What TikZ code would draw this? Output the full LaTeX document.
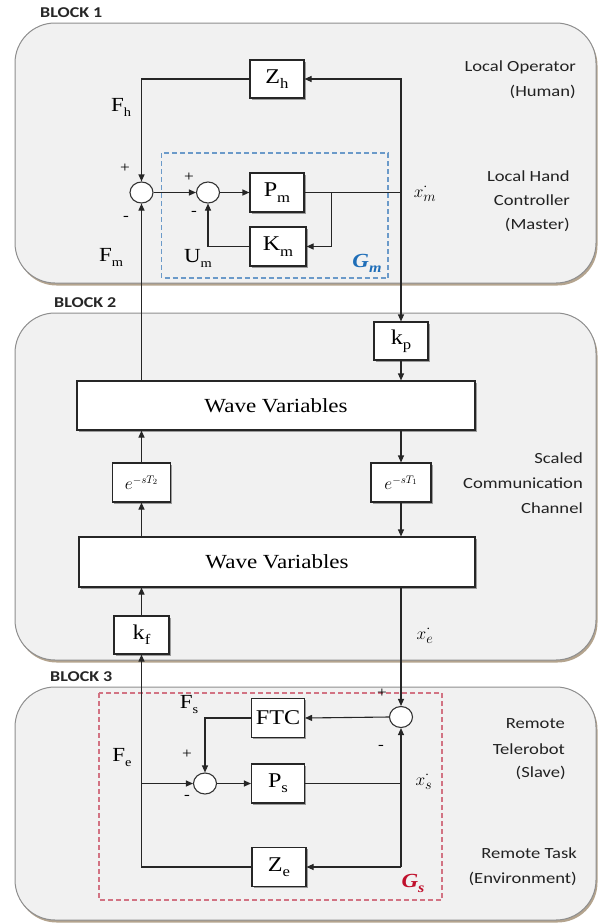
\documentclass[tikz,border=0pt]{standalone}
\usepackage{fontspec}
\setmainfont{Liberation Serif}[FakeStretch=1.15]
\newfontfamily\sidefont{Carlito}[FakeStretch=1.2]
\usetikzlibrary{arrows.meta,shadows,shapes.geometric}
\definecolor{blockfill}{HTML}{F1F1F1}
\definecolor{blockline}{HTML}{8E8E8E}
\definecolor{blockshadow}{HTML}{B4A48E}
\definecolor{gmblue}{HTML}{1F6EB8}
\definecolor{dashblue}{HTML}{6B9AC9}
\definecolor{gsred}{HTML}{C0102C}
\definecolor{dashred}{HTML}{D27383}
\definecolor{sidetext}{HTML}{222222}
\newcommand\bsub[2]{#1\raisebox{-0.25em}{\fontsize{14.5}{14.5}\selectfont #2}}
\newcommand\ssub[2]{#1\raisebox{-0.25em}{\fontsize{12.5}{12.5}\selectfont #2}}
\tikzset{
  blk/.style={draw=black!85, fill=white, line width=1.1pt, minimum width=54pt,
    minimum height=38pt, inner sep=0pt, font=\fontsize{21}{21}\selectfont,
    drop shadow={shadow xshift=1.5pt, shadow yshift=-1.5pt, opacity=0.35, fill=black}},
  sumj/.style={ellipse, draw=black!80, fill=white, line width=1.1pt,
    minimum width=23pt, minimum height=21pt, inner sep=0pt},
  arr/.style={-{Triangle[length=7pt,width=6pt]}, line width=1.1pt, draw=black!85},
  ln/.style={line width=1.1pt, draw=black!85},
  side/.style={font=\sidefont\fontsize{15.5}{15.5}\selectfont, text=sidetext, anchor=east, inner sep=0pt},
  blocklbl/.style={font=\sidefont\bfseries\fontsize{15}{15}\selectfont, text=black!85, anchor=west, inner sep=0pt},
  sig/.style={font=\fontsize{20}{20}\selectfont, inner sep=0pt},
  xsig/.style={font=\fontsize{19}{19}\selectfont, inner sep=0pt},
  pmsign/.style={font=\fontsize{15}{15}\selectfont, inner sep=0pt},
  blockbg/.style={draw=blockline, fill=blockfill, line width=1pt, rounded corners=40pt},
  blockshd/.style={fill=blockshadow, rounded corners=40pt},
}
\begin{document}
\begin{tikzpicture}[x=1pt,y=-1pt]
\useasboundingbox (0,0) rectangle (603,924);
% blocks
\fill[blockshd] (16.5,25.5) rectangle (597.5,285.5);
\draw[blockbg] (15,23) rectangle (596,283);
\fill[blockshd] (16.5,315.5) rectangle (597.5,662.5);
\draw[blockbg] (15,313) rectangle (596,660);
\fill[blockshd] (16.5,689.5) rectangle (597.5,922.5);
\draw[blockbg] (15,687) rectangle (596,920);
\node[blocklbl] (b1) at (40,13) {BLOCK 1};
\node[blocklbl] (b2) at (54,303) {BLOCK 2};
\node[blocklbl] (b3) at (50,677) {BLOCK 3};
% dashed group boxes
\draw[dashblue, line width=1.1pt, dash pattern=on 5pt off 3pt] (161.5,153) rectangle (388,278);
\draw[dashred, line width=1.1pt, dash pattern=on 5pt off 3pt] (99,693) rectangle (442,900);
% side texts
\node[side] (t1) at (576,67) {Local Operator};
\node[side] (t2) at (576,92) {(Human)};
\node[side] (t3) at (570,176) {Local Hand};
\node[side] (t4) at (570,200) {Controller};
\node[side] (t5) at (570,225) {(Master)};
\node[side] (t6) at (583,458) {Scaled};
\node[side] (t7) at (583,483) {Communication};
\node[side] (t8) at (583,508) {Channel};
\node[side] (t9) at (565,724) {Remote};
\node[side] (t10) at (565,749) {Telerobot};
\node[side] (t11) at (566,773) {(Slave)};
\node[side] (t12) at (577,853) {Remote Task};
\node[side] (t13) at (577,879) {(Environment)};
% block 1
\node[blk] (Zh) at (277,79) {\bsub{Z}{h}};
\node[sumj] (s1) at (141.5,192.5) {};
\node[sumj] (s2) at (208,192.5) {};
\node[blk, minimum height=39pt] (Pm) at (277,192.5) {\bsub{P}{m}};
\node[blk, minimum width=56pt, minimum height=39pt] (Km) at (278,246.5) {\bsub{K}{m}};
\coordinate (jm) at (401,192.5);
\coordinate (bk) at (331.5,192.5);
% block 2
\node[blk] (kp) at (401,341) {\bsub{k}{p}};
\node[blk, minimum width=398pt, minimum height=49pt, font=\fontsize{20}{20}\selectfont] (wv1) at (276,405.5) {Wave Variables};
\node[blk, minimum width=60pt, minimum height=39pt, font=\fontsize{16}{16}\selectfont] (e1) at (401,482.5) {$e^{-sT_1}$};
\node[blk, minimum width=58pt, minimum height=39pt, font=\fontsize{16}{16}\selectfont] (e2) at (141.5,482.5) {$e^{-sT_2}$};
\node[blk, minimum width=396pt, minimum height=50pt, font=\fontsize{20}{20}\selectfont] (wv2) at (277,562) {Wave Variables};
\node[blk, minimum width=55pt] (kf) at (141.5,635) {\bsub{k}{f}};
% block 3
\node[sumj] (s3) at (401,717) {};
\node[blk, minimum width=53pt, minimum height=39pt] (FTC) at (278,718) {FTC};
\node[sumj] (s4) at (205,783.5) {};
\node[blk, minimum width=53pt, minimum height=39pt] (Ps) at (278,783.5) {\bsub{P}{s}};
\node[blk, minimum height=39pt] (Ze) at (279,867) {\bsub{Z}{e}};
\coordinate (js) at (401,783.5);
\coordinate (jz) at (401,867);
\coordinate (jf) at (141.5,783.5);
% connectors block 1
\draw[arr] (Zh.west) -| (s1.north);
\draw[arr] (s1.east) -- (s2.west);
\draw[arr] (s2.east) -- (Pm.west);
\draw[ln] (Pm.east) -- (jm);
\draw[arr] (jm) |- (Zh.east);
\draw[arr] (jm) -- (kp.north);
\draw[arr] (bk) |- (Km.east);
\draw[arr] (Km.west) -| (s2.south);
\draw[arr] (wv1.north -| s1) -- (s1.south);
% connectors block 2
\draw[arr] (kp.south) -- (kp.south |- wv1.north);
\draw[arr] (wv1.south -| e1) -- (e1.north);
\draw[arr] (e2.north) -- (e2.north |- wv1.south);
\draw[arr] (e1.south) -- (e1.south |- wv2.north);
\draw[arr] (wv2.north -| e2) -- (e2.south);
\draw[arr] (wv2.south -| s3) -- (s3.north);
\draw[arr] (kf.north) -- (kf.north |- wv2.south);
% connectors block 3
\draw[arr] (s3.west) -- (FTC.east);
\draw[arr] (FTC.west) -| (s4.north);
\draw[arr] (s4.east) -- (Ps.west);
\draw[ln] (Ps.east) -- (js);
\draw[arr] (jz) -- (s3.south);
\draw[arr] (jz) -- (Ze.east);
\draw[arr] (Ze.west) -| (kf.south);
\draw[arr] (jf) -- (s4.west);
% signal labels
\node[sig] (lFh) at (121,107) {\ssub{F}{h}};
\node[sig] (lFm) at (111,257) {\ssub{F}{m}};
\node[sig] (lUm) at (198,258) {\ssub{U}{m}};
\node[sig, text=gmblue, font=\fontsize{20}{20}\selectfont\bfseries\itshape] (lGm) at (367,263) {G\raisebox{-0.25em}{\fontsize{14}{14}\selectfont m}};
\node[xsig] (lxm) at (425,193) {$x^{\cdot}_m$};
\node[xsig] (lxe) at (425,635) {$x^{\cdot}_e$};
\node[xsig] (lxs) at (424,781) {$x^{\cdot}_s$};
\node[sig] (lFs) at (189,705) {\ssub{F}{s}};
\node[sig] (lFe) at (122,758) {\ssub{F}{e}};
\node[sig, text=gsred, font=\fontsize{20}{20}\selectfont\bfseries\itshape] (lGs) at (413,883) {G\raisebox{-0.25em}{\fontsize{14}{14}\selectfont s}};
\node[pmsign] (p1) at (125,168) {+};
\node[pmsign] (m1) at (126,218) {-};
\node[pmsign] (p2) at (189,177) {+};
\node[pmsign] (m2) at (194,213) {-};
\node[pmsign] (p3) at (382,693) {+};
\node[pmsign] (m3) at (381,747) {-};
\node[pmsign] (p4) at (187,754) {+};
\node[pmsign] (m4) at (187,797) {-};
\end{tikzpicture}
\end{document}
